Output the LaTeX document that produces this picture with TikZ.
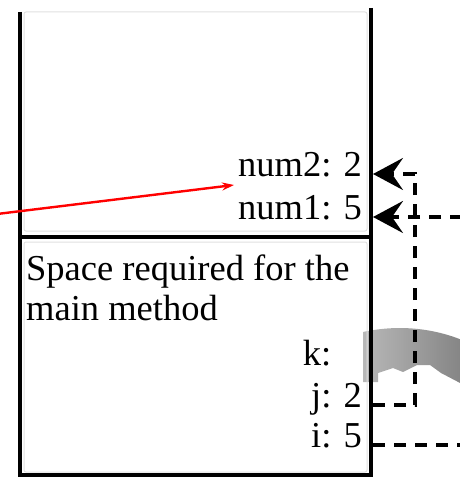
\documentclass[tikz,border=0pt]{standalone}
\usepackage{fontspec}
\setmainfont{Liberation Serif}
\usetikzlibrary{arrows.meta, calc}
\tikzset{
  frame/.style={line width=3.2pt},
  cell/.style={draw=black!12, line width=1pt, rounded corners=2pt},
  slot/.style={anchor=base east, inner xsep=11pt, inner ysep=0pt,
               text height=0.65em, text depth=0.25em},
  link/.style={line width=3.4pt, dash pattern=on 12pt off 9pt},
  bigtip/.style={-{Stealth[length=30pt, width=32pt, inset=11pt]}},
  pointer/.style={red, line width=2.4pt, -{Stealth[length=12pt, width=8pt]}}
}

\begin{document}
\begin{tikzpicture}[x=1pt, y=-1pt, font=\fontsize{36.5}{40}\selectfont]
        \useasboundingbox (0,0) rectangle (459,478);
        % grey band behind the stack
        \shade[left color=black!28, right color=black!48]
              (363,332) .. controls (395,325) and (430,327) .. (462,340)
              -- (462,384) -- (441,373) -- (430,365) -- (417,365)
              -- (403,372) -- (393,368) -- (378,373) -- (378,382)
              -- (363,382) -- cycle;
        \draw[cell] (24,12) rectangle (367,231);
        \draw[cell] (24,242) rectangle (367,472);
        \draw[frame] (20,12) -- (20,475) -- (373,475);
        \draw[frame] (371,8) -- (371,475);
        \draw[frame] (20,237) -- (373,237);
        \node[slot] (num2) at (373,176) {num2: 2};
        \node[slot] (num1) at (373,219) {num1: 5};
        \node[anchor=base west, align=left, inner sep=0pt] (mainlbl)
              at (26,320) {Space required for the\\main method};
        \node[slot] (k) at (373,365) {k: \phantom{2}};
        \node[slot] (j) at (373,407) {j: 2};
        \node[slot] (i) at (373,447) {i: 5};
        \coordinate (turn) at (415,0);
        \coordinate (rim) at (462,0);
        \coordinate (callsite) at (-3,214);
        \coordinate (target) at (234,185);
        \draw[link, bigtip] (j.east) -| (turn |- num2.east) -- (num2.east);
        \draw[link, bigtip] (rim |- num1.east) -- (num1.east);
        \draw[link] (i.east) -- (rim |- i.east);
        \draw[pointer] (callsite) -- (target);
      \end{tikzpicture}
\end{document}
